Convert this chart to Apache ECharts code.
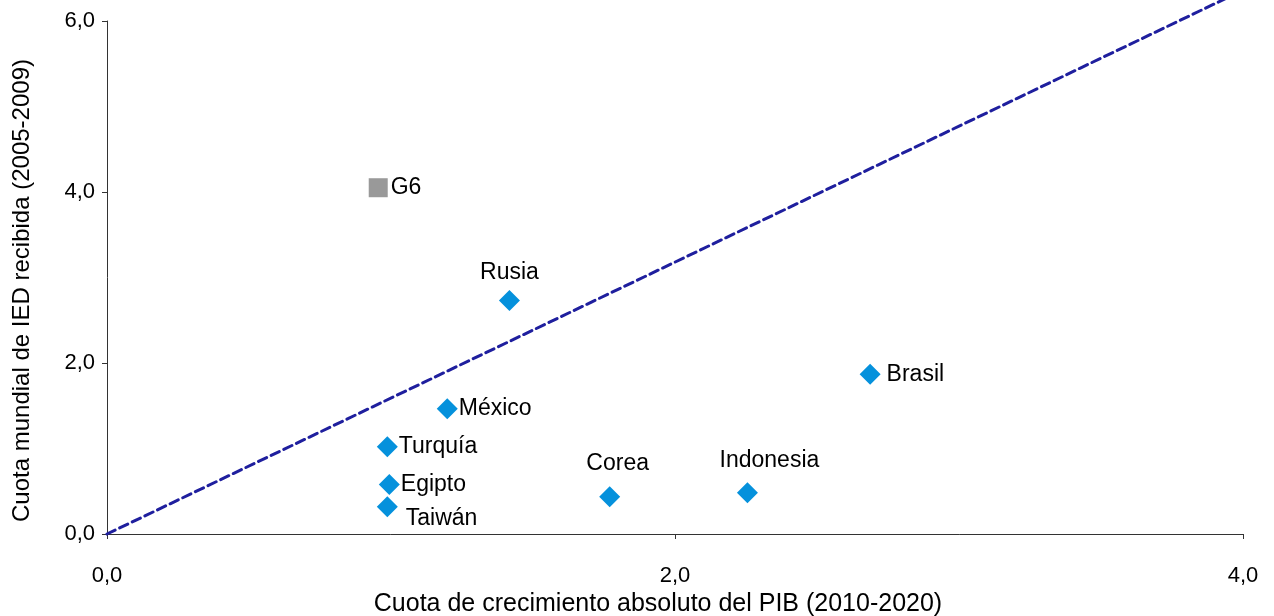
<!DOCTYPE html>
<html>
<head>
<meta charset="utf-8">
<script src="https://cdn.jsdelivr.net/npm/echarts@6/dist/echarts.min.js"></script>
<style>
  html, body { margin: 0; padding: 0; background: #fff; }
  #chart { width: 1274px; height: 616px; }
</style>
</head>
<body>
<div id="chart"></div>
<script>
// países emergentes
const countries = ['Rusia', 'México', 'Turquía', 'Egipto', 'Taiwán', 'Corea', 'Indonesia', 'Brasil'];
const gdpShare = [1.417, 1.198, 0.987, 0.994, 0.987, 1.770, 2.255, 2.687];
const fdiShare = [2.73, 1.465, 1.02, 0.58, 0.32, 0.436, 0.483, 1.868];

// grupo de referencia
const g6Name = 'G6';
const g6Point = [0.955, 4.05];

// línea de referencia
const refLine = [[0, 0], [4, 6.36]];

const xTicks = [0, 2, 4];
const yTicks = [0, 2, 4, 6];

// posición de cada etiqueta
const labelStyle = {
  'Rusia': { position: 'top', distance: 6 },
  'México': { position: 'right', distance: 1 },
  'Turquía': { position: 'right', distance: 1 },
  'Egipto': { position: 'right', distance: 1 },
  'Taiwán': { position: 'right', distance: 8, offset: [0, 12] },
  'Corea': { position: 'top', distance: 11, offset: [8, 0] },
  'Indonesia': { position: 'top', distance: 10, offset: [22, 0] },
  'Brasil': { position: 'right', distance: 6 }
};

const fmt = v => v.toFixed(1).replace('.', ',');
const font = 'Liberation Sans, Arial, sans-serif';

const chart = echarts.init(document.getElementById('chart'));

const countryData = countries.map((name, i) => ({
  name: name,
  value: [gdpShare[i], fdiShare[i]],
  label: Object.assign({ show: true }, labelStyle[name])
}));

const axisCommon = {
  axisLine: { show: true, lineStyle: { color: '#333', width: 1 } },
  axisTick: { show: true, inside: false, length: 5, lineStyle: { color: '#333' } },
  splitLine: { show: false },
  axisLabel: { color: '#000', fontSize: 22, fontFamily: font, formatter: fmt }
};

chart.setOption({
  animation: false,
  grid: { left: 107, right: 31, top: 21, bottom: 82, outerBoundsMode: 'none', containLabel: false },
  xAxis: Object.assign({}, axisCommon, {
    type: 'value',
    min: xTicks[0],
    max: xTicks[xTicks.length - 1],
    interval: 2,
    name: 'Cuota de crecimiento absoluto del PIB (2010-2020)',
    nameLocation: 'middle',
    nameGap: 58,
    nameTextStyle: { color: '#000', fontSize: 25, fontFamily: font, padding: [0, 34, 0, 0] },
    axisLabel: Object.assign({}, axisCommon.axisLabel, { margin: 31 })
  }),
  yAxis: Object.assign({}, axisCommon, {
    type: 'value',
    min: yTicks[0],
    max: yTicks[yTicks.length - 1],
    interval: 2,
    name: 'Cuota mundial de IED recibida (2005-2009)',
    nameLocation: 'middle',
    nameGap: 73,
    nameTextStyle: { color: '#000', fontSize: 24, fontFamily: font, padding: [0, 26, 0, 0] },
    axisLabel: Object.assign({}, axisCommon.axisLabel, { margin: 12 })
  }),
  series: [
    {
      type: 'line',
      data: refLine,
      clip: false,
      symbol: 'none',
      silent: true,
      z: 1,
      lineStyle: { color: '#1f1f9e', width: 3, type: [9, 5], cap: 'round' }
    },
    {
      type: 'scatter',
      data: [{ name: g6Name, value: g6Point }],
      symbol: 'rect',
      symbolSize: 19,
      z: 3,
      itemStyle: { color: '#999999', opacity: 1 },
      label: {
        show: true, position: 'right', distance: 3,
        formatter: '{b}', color: '#000', fontSize: 23, fontFamily: font
      }
    },
    {
      type: 'scatter',
      data: countryData,
      symbol: 'diamond',
      symbolSize: 21,
      z: 3,
      itemStyle: { color: '#0591dc', opacity: 1 },
      label: {
        formatter: '{b}', color: '#000', fontSize: 23, fontFamily: font
      }
    }
  ]
});
</script>
</body>
</html>
